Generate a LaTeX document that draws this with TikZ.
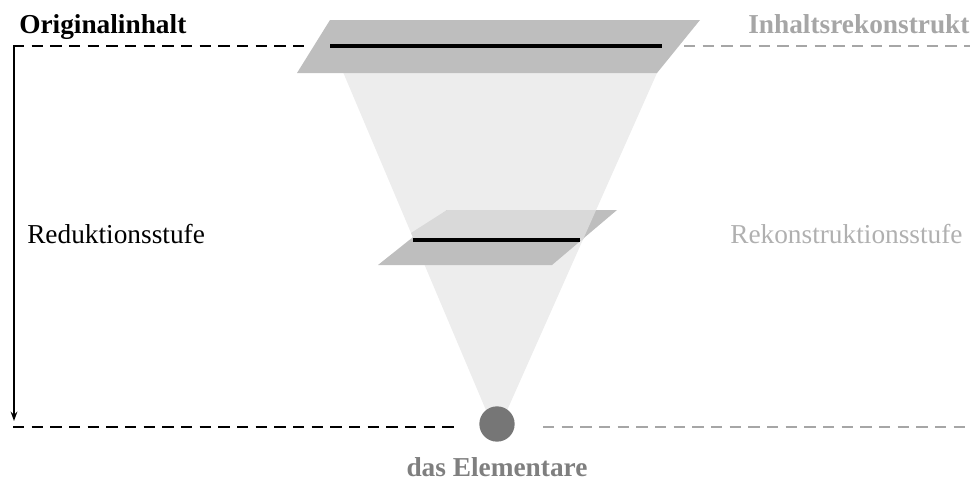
\documentclass[tikz,border=0pt]{standalone}
\usepackage{fontspec}
\setmainfont{Liberation Serif}
\usetikzlibrary{arrows.meta}
\definecolor{planegray}{HTML}{BEBEBE}
\definecolor{conegray}{HTML}{EDEDED}
\definecolor{overlapgray}{HTML}{D9D9D9}
\definecolor{dotgray}{HTML}{767676}
\definecolor{lightlabel}{HTML}{A6A6A6}
\definecolor{midlabel}{HTML}{B0B0B0}
\definecolor{darklabel}{HTML}{7F7F7F}
\tikzset{
  blackdash/.style={draw=black, line width=2.1pt, dash pattern=on 8.5pt off 5.5pt},
  graydash/.style={draw=lightlabel, line width=2.1pt, dash pattern=on 8.5pt off 5.5pt},
  levelline/.style={draw=black, line width=2.3pt},
  labeltext/.style={font=\fontsize{20.5}{24}\selectfont, inner sep=0pt, anchor=base west},
  boldlabel/.style={labeltext, font=\fontsize{20.5}{24}\selectfont\bfseries},
}
\begin{document}
\begin{tikzpicture}[x=0.75pt,y=-0.75pt]
\useasboundingbox (0,0) rectangle (970,482);
% cone
\fill[conegray] (332,46) -- (669,46) -- (505,415) -- (488,415) -- cycle;
% top plane
\fill[planegray] (330,20) -- (700,20) -- (657,73) -- (297,73) -- cycle;
% middle plane
\fill[planegray] (447,210) -- (617,210) -- (552,265) -- (378,265) -- cycle;
\begin{scope}
  \clip (447,210) -- (617,210) -- (600,240) -- (400,240) -- cycle;
  \fill[overlapgray] (332,46) -- (669,46) -- (505,415) -- (488,415) -- cycle;
\end{scope}
% level lines
\coordinate (t1) at (330,46); \coordinate (t2) at (662,46);
\coordinate (m1) at (413,240); \coordinate (m2) at (580,240);
\draw[levelline] (t1) -- (t2);
\draw[levelline] (m1) -- (m2);
% elementary dot
\node[circle, fill=dotgray, minimum size=26.5pt, inner sep=0pt] (dot) at (497,424) {};
% dashed lines
\coordinate (tl) at (13,46); \coordinate (tlr) at (306,46);
\coordinate (trl) at (684,46); \coordinate (tr) at (970,46);
\coordinate (bl) at (13,427); \coordinate (blr) at (456,427);
\coordinate (brl) at (543,427); \coordinate (br) at (970,427);
\draw[blackdash] (tl) -- (tlr);
\draw[graydash] (trl) -- (tr);
\draw[blackdash] (bl) -- (blr);
\draw[graydash] (brl) -- (br);
% reduction arrow
\coordinate (a1) at (14,45); \coordinate (a2) at (14,421);
\draw[line width=1.4pt, -{Stealth[length=7pt,width=5pt]}] (a1) -- (a2);
% labels
\node[boldlabel] (orig) at (19,33) {Originalinhalt};
\node[boldlabel, text=lightlabel] (rek) at (748,33) {Inhaltsrekonstrukt};
\node[labeltext] (red) at (27,243) {Reduktionsstufe};
\node[labeltext, text=midlabel] (rks) at (730,243) {Rekonstruktionsstufe};
\node[boldlabel, anchor=base, text=darklabel] (elem) at (497,476) {das Elementare};
\end{tikzpicture}
\end{document}
